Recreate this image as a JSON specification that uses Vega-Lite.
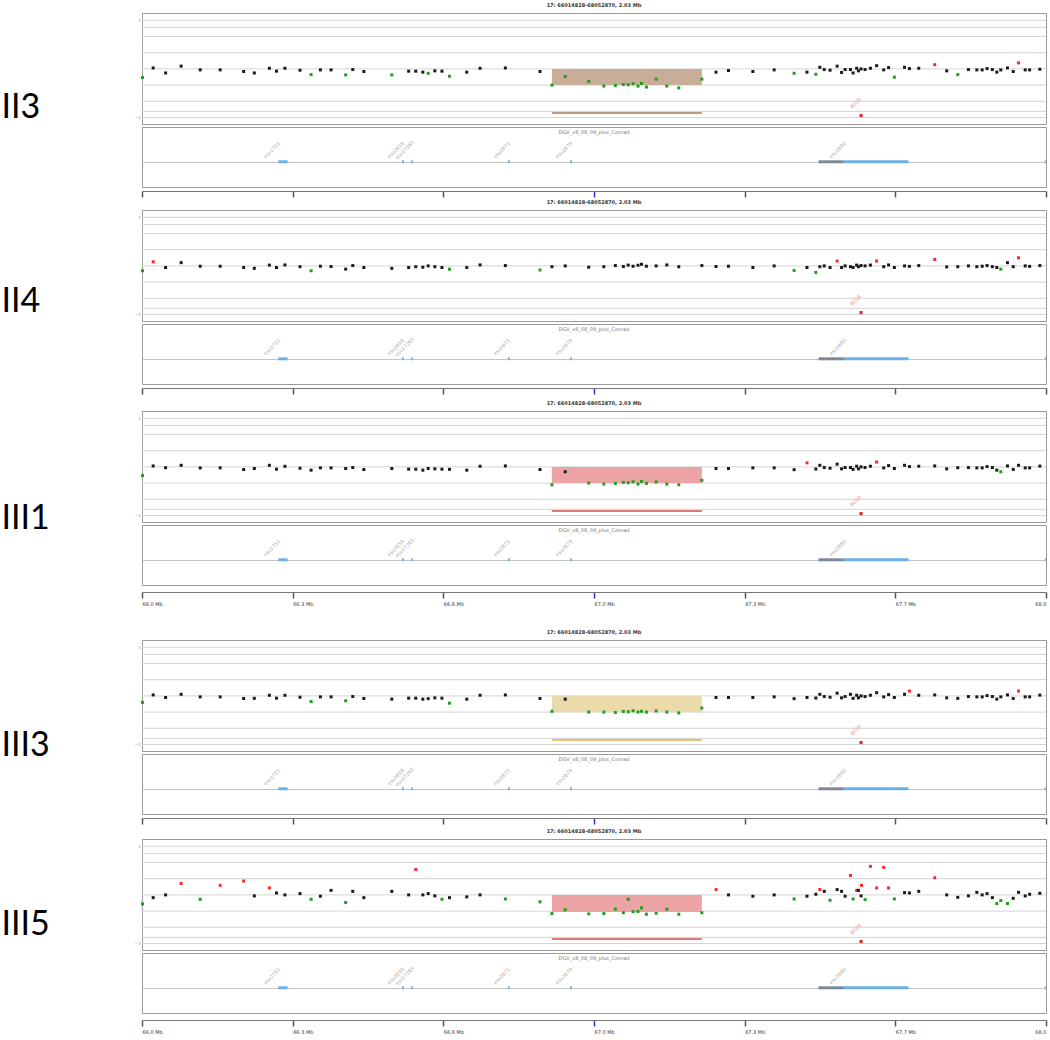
{
"$schema": "https://vega.github.io/schema/vega-lite/v6.json",
"background": "white",
"padding": {"left": 0, "top": 2, "right": 0, "bottom": 0},
"config": {"view": {"stroke": "#9a9a9a", "strokeWidth": 1}, "font": "DejaVu Sans"},
"datasets": {
"lv": [{"y":3},{"y":2.56},{"y":2},{"y":1},{"y":0},{"y":-1},{"y":-2},{"y":-2.62},{"y":-3}],
"reg": [
{"s":"II3","b":66.939,"e":67.277,"hi":0,"lo":-1,"call":-2.72},
{"s":"III1","b":66.939,"e":67.277,"hi":0,"lo":-1,"call":-2.72},
{"s":"III3","b":66.939,"e":67.277,"hi":0,"lo":-1,"call":-2.72},
{"s":"III5","b":66.939,"e":67.277,"hi":0,"lo":-1.05,"call":-2.72}
],
"mk": [{"p":67.636,"v":-2.88,"id":"B028"}],
"dgv": [
{"b":66.322,"e":66.343,"k":"blue","id":"esv2751"},
{"b":66.601,"e":66.605,"k":"blue","id":"esv2658"},
{"b":66.621,"e":66.625,"k":"blue","id":"esv27265"},
{"b":66.840,"e":66.844,"k":"blue","id":"esv2671"},
{"b":66.980,"e":66.984,"k":"blue","id":"esv2679"},
{"b":67.540,"e":67.597,"k":"dark","id":""},
{"b":67.597,"e":67.743,"k":"blue","id":"esv2680"},
{"b":68.050,"e":68.053,"k":"blue","id":""}
],
"pts": [
{"s":"II3","p":66.016,"v":-0.53,"c":"g"},{"s":"II3","p":66.040,"v":0.06,"c":"n"},{"s":"II3","p":66.068,"v":-0.25,"c":"n"},{"s":"II3","p":66.103,"v":0.17,"c":"n"},{"s":"II3","p":66.146,"v":-0.06,"c":"n"},{"s":"II3","p":66.191,"v":-0.06,"c":"n"},{"s":"II3","p":66.244,"v":-0.16,"c":"n"},{"s":"II3","p":66.268,"v":-0.25,"c":"n"},{"s":"II3","p":66.302,"v":0.04,"c":"n"},{"s":"II3","p":66.318,"v":-0.14,"c":"n"},
{"s":"II3","p":66.337,"v":0.04,"c":"n"},{"s":"II3","p":66.371,"v":-0.08,"c":"n"},{"s":"II3","p":66.396,"v":-0.35,"c":"g"},{"s":"II3","p":66.417,"v":-0.06,"c":"n"},{"s":"II3","p":66.441,"v":-0.06,"c":"n"},{"s":"II3","p":66.474,"v":-0.37,"c":"g"},{"s":"II3","p":66.490,"v":-0.04,"c":"n"},{"s":"II3","p":66.515,"v":-0.16,"c":"n"},{"s":"II3","p":66.578,"v":-0.37,"c":"g"},{"s":"II3","p":66.616,"v":-0.14,"c":"n"},
{"s":"II3","p":66.632,"v":-0.14,"c":"n"},{"s":"II3","p":66.648,"v":-0.2,"c":"n"},{"s":"II3","p":66.660,"v":-0.27,"c":"g"},{"s":"II3","p":66.675,"v":-0.12,"c":"n"},{"s":"II3","p":66.691,"v":-0.14,"c":"n"},{"s":"II3","p":66.708,"v":-0.45,"c":"g"},{"s":"II3","p":66.747,"v":-0.2,"c":"n"},{"s":"II3","p":66.777,"v":0.04,"c":"n"},{"s":"II3","p":66.834,"v":0.06,"c":"n"},{"s":"II3","p":66.912,"v":-0.16,"c":"n"},
{"s":"II3","p":66.939,"v":-1.0,"c":"g"},{"s":"II3","p":66.969,"v":-0.47,"c":"g"},{"s":"II3","p":67.022,"v":-0.78,"c":"g"},{"s":"II3","p":67.056,"v":-1.06,"c":"g"},{"s":"II3","p":67.082,"v":-1.02,"c":"g"},{"s":"II3","p":67.100,"v":-0.96,"c":"g"},{"s":"II3","p":67.111,"v":-0.98,"c":"g"},{"s":"II3","p":67.122,"v":-0.92,"c":"g"},{"s":"II3","p":67.133,"v":-1.06,"c":"g"},{"s":"II3","p":67.141,"v":-0.9,"c":"g"},
{"s":"II3","p":67.152,"v":-1.12,"c":"g"},{"s":"II3","p":67.174,"v":-0.63,"c":"g"},{"s":"II3","p":67.198,"v":-1.06,"c":"g"},{"s":"II3","p":67.225,"v":-1.17,"c":"g"},{"s":"II3","p":67.277,"v":-0.63,"c":"g"},{"s":"II3","p":67.309,"v":-0.2,"c":"n"},{"s":"II3","p":67.337,"v":-0.1,"c":"n"},{"s":"II3","p":67.392,"v":-0.16,"c":"n"},{"s":"II3","p":67.440,"v":-0.06,"c":"n"},{"s":"II3","p":67.485,"v":-0.27,"c":"g"},
{"s":"II3","p":67.514,"v":-0.2,"c":"n"},{"s":"II3","p":67.534,"v":-0.33,"c":"g"},{"s":"II3","p":67.543,"v":0.1,"c":"n"},{"s":"II3","p":67.553,"v":-0.04,"c":"n"},{"s":"II3","p":67.566,"v":-0.08,"c":"n"},{"s":"II3","p":67.582,"v":0.17,"c":"n"},{"s":"II3","p":67.592,"v":-0.22,"c":"n"},{"s":"II3","p":67.600,"v":-0.04,"c":"n"},{"s":"II3","p":67.612,"v":-0.04,"c":"n"},{"s":"II3","p":67.618,"v":-0.25,"c":"n"},
{"s":"II3","p":67.626,"v":0.04,"c":"n"},{"s":"II3","p":67.630,"v":-0.12,"c":"n"},{"s":"II3","p":67.636,"v":0.0,"c":"n"},{"s":"II3","p":67.645,"v":-0.04,"c":"n"},{"s":"II3","p":67.657,"v":0.04,"c":"n"},{"s":"II3","p":67.671,"v":0.2,"c":"n"},{"s":"II3","p":67.687,"v":-0.06,"c":"n"},{"s":"II3","p":67.698,"v":0.08,"c":"n"},{"s":"II3","p":67.711,"v":-0.51,"c":"g"},{"s":"II3","p":67.734,"v":0.1,"c":"n"},
{"s":"II3","p":67.745,"v":0.02,"c":"n"},{"s":"II3","p":67.766,"v":0.04,"c":"n"},{"s":"II3","p":67.802,"v":0.26,"c":"r"},{"s":"II3","p":67.829,"v":-0.12,"c":"n"},{"s":"II3","p":67.854,"v":-0.35,"c":"g"},{"s":"II3","p":67.878,"v":-0.04,"c":"n"},{"s":"II3","p":67.897,"v":-0.06,"c":"n"},{"s":"II3","p":67.909,"v":-0.06,"c":"n"},{"s":"II3","p":67.920,"v":0.02,"c":"n"},{"s":"II3","p":67.932,"v":-0.04,"c":"n"},
{"s":"II3","p":67.942,"v":-0.2,"c":"n"},{"s":"II3","p":67.951,"v":-0.06,"c":"n"},{"s":"II3","p":67.966,"v":0.06,"c":"n"},{"s":"II3","p":67.979,"v":-0.16,"c":"n"},{"s":"II3","p":67.991,"v":0.37,"c":"r"},{"s":"II3","p":68.006,"v":-0.06,"c":"n"},{"s":"II3","p":68.016,"v":-0.06,"c":"n"},{"s":"II3","p":68.039,"v":-0.02,"c":"n"},

{"s":"II4","p":66.016,"v":-0.3,"c":"g"},{"s":"II4","p":66.040,"v":0.25,"c":"r"},{"s":"II4","p":66.068,"v":-0.1,"c":"n"},{"s":"II4","p":66.103,"v":0.2,"c":"n"},{"s":"II4","p":66.146,"v":-0.02,"c":"n"},{"s":"II4","p":66.191,"v":-0.02,"c":"n"},{"s":"II4","p":66.244,"v":-0.1,"c":"n"},{"s":"II4","p":66.268,"v":-0.15,"c":"n"},{"s":"II4","p":66.302,"v":0.05,"c":"n"},{"s":"II4","p":66.318,"v":-0.1,"c":"n"},
{"s":"II4","p":66.337,"v":0.06,"c":"n"},{"s":"II4","p":66.371,"v":-0.05,"c":"n"},{"s":"II4","p":66.396,"v":-0.3,"c":"g"},{"s":"II4","p":66.417,"v":-0.02,"c":"n"},{"s":"II4","p":66.441,"v":-0.04,"c":"n"},{"s":"II4","p":66.474,"v":-0.2,"c":"n"},{"s":"II4","p":66.490,"v":0.02,"c":"n"},{"s":"II4","p":66.515,"v":-0.1,"c":"n"},{"s":"II4","p":66.578,"v":-0.15,"c":"n"},{"s":"II4","p":66.616,"v":-0.1,"c":"n"},
{"s":"II4","p":66.632,"v":-0.05,"c":"n"},{"s":"II4","p":66.648,"v":-0.08,"c":"n"},{"s":"II4","p":66.660,"v":0.0,"c":"n"},{"s":"II4","p":66.675,"v":-0.05,"c":"n"},{"s":"II4","p":66.691,"v":-0.1,"c":"n"},{"s":"II4","p":66.708,"v":-0.2,"c":"g"},{"s":"II4","p":66.747,"v":-0.1,"c":"n"},{"s":"II4","p":66.777,"v":0.06,"c":"n"},{"s":"II4","p":66.834,"v":0.02,"c":"n"},{"s":"II4","p":66.912,"v":-0.25,"c":"g"},
{"s":"II4","p":66.939,"v":-0.05,"c":"n"},{"s":"II4","p":66.969,"v":0.0,"c":"n"},{"s":"II4","p":67.022,"v":-0.08,"c":"n"},{"s":"II4","p":67.056,"v":-0.05,"c":"n"},{"s":"II4","p":67.082,"v":0.02,"c":"n"},{"s":"II4","p":67.100,"v":-0.04,"c":"n"},{"s":"II4","p":67.111,"v":0.05,"c":"n"},{"s":"II4","p":67.122,"v":-0.02,"c":"n"},{"s":"II4","p":67.133,"v":0.04,"c":"n"},{"s":"II4","p":67.141,"v":0.1,"c":"n"},
{"s":"II4","p":67.152,"v":-0.02,"c":"n"},{"s":"II4","p":67.174,"v":0.0,"c":"n"},{"s":"II4","p":67.198,"v":0.06,"c":"n"},{"s":"II4","p":67.225,"v":-0.05,"c":"n"},{"s":"II4","p":67.277,"v":0.02,"c":"n"},{"s":"II4","p":67.309,"v":-0.04,"c":"n"},{"s":"II4","p":67.337,"v":-0.02,"c":"n"},{"s":"II4","p":67.392,"v":-0.1,"c":"n"},{"s":"II4","p":67.440,"v":0.0,"c":"n"},{"s":"II4","p":67.485,"v":-0.28,"c":"g"},
{"s":"II4","p":67.514,"v":-0.1,"c":"n"},{"s":"II4","p":67.534,"v":-0.4,"c":"g"},{"s":"II4","p":67.543,"v":-0.05,"c":"n"},{"s":"II4","p":67.553,"v":0.0,"c":"n"},{"s":"II4","p":67.566,"v":-0.1,"c":"n"},{"s":"II4","p":67.582,"v":0.3,"c":"r"},{"s":"II4","p":67.592,"v":-0.1,"c":"n"},{"s":"II4","p":67.600,"v":0.0,"c":"n"},{"s":"II4","p":67.612,"v":-0.05,"c":"n"},{"s":"II4","p":67.618,"v":-0.1,"c":"n"},
{"s":"II4","p":67.626,"v":0.05,"c":"n"},{"s":"II4","p":67.630,"v":-0.05,"c":"n"},{"s":"II4","p":67.636,"v":0.02,"c":"n"},{"s":"II4","p":67.645,"v":0.0,"c":"n"},{"s":"II4","p":67.657,"v":0.05,"c":"n"},{"s":"II4","p":67.671,"v":0.3,"c":"r"},{"s":"II4","p":67.687,"v":-0.05,"c":"n"},{"s":"II4","p":67.698,"v":0.06,"c":"n"},{"s":"II4","p":67.711,"v":-0.1,"c":"n"},{"s":"II4","p":67.734,"v":0.0,"c":"n"},
{"s":"II4","p":67.745,"v":-0.03,"c":"n"},{"s":"II4","p":67.766,"v":0.02,"c":"n"},{"s":"II4","p":67.802,"v":0.4,"c":"r"},{"s":"II4","p":67.829,"v":-0.06,"c":"n"},{"s":"II4","p":67.854,"v":-0.05,"c":"n"},{"s":"II4","p":67.878,"v":0.0,"c":"n"},{"s":"II4","p":67.897,"v":-0.05,"c":"n"},{"s":"II4","p":67.909,"v":-0.02,"c":"n"},{"s":"II4","p":67.920,"v":0.02,"c":"n"},{"s":"II4","p":67.932,"v":-0.05,"c":"n"},
{"s":"II4","p":67.942,"v":-0.1,"c":"n"},{"s":"II4","p":67.951,"v":-0.2,"c":"g"},{"s":"II4","p":67.966,"v":0.2,"c":"n"},{"s":"II4","p":67.979,"v":-0.05,"c":"n"},{"s":"II4","p":67.991,"v":0.5,"c":"r"},{"s":"II4","p":68.006,"v":0.0,"c":"n"},{"s":"II4","p":68.016,"v":-0.03,"c":"n"},{"s":"II4","p":68.039,"v":0.02,"c":"n"},

{"s":"III1","p":66.016,"v":-0.53,"c":"g"},{"s":"III1","p":66.040,"v":0.06,"c":"n"},{"s":"III1","p":66.068,"v":-0.05,"c":"n"},{"s":"III1","p":66.103,"v":0.1,"c":"n"},{"s":"III1","p":66.146,"v":-0.06,"c":"n"},{"s":"III1","p":66.191,"v":-0.06,"c":"n"},{"s":"III1","p":66.244,"v":-0.16,"c":"n"},{"s":"III1","p":66.268,"v":-0.1,"c":"n"},{"s":"III1","p":66.302,"v":0.1,"c":"n"},{"s":"III1","p":66.318,"v":-0.14,"c":"n"},
{"s":"III1","p":66.337,"v":0.04,"c":"n"},{"s":"III1","p":66.371,"v":-0.08,"c":"n"},{"s":"III1","p":66.396,"v":-0.2,"c":"n"},{"s":"III1","p":66.417,"v":-0.06,"c":"n"},{"s":"III1","p":66.441,"v":-0.06,"c":"n"},{"s":"III1","p":66.474,"v":-0.1,"c":"n"},{"s":"III1","p":66.490,"v":-0.04,"c":"n"},{"s":"III1","p":66.515,"v":-0.16,"c":"n"},{"s":"III1","p":66.578,"v":-0.1,"c":"n"},{"s":"III1","p":66.616,"v":-0.14,"c":"n"},
{"s":"III1","p":66.632,"v":-0.14,"c":"n"},{"s":"III1","p":66.648,"v":-0.2,"c":"n"},{"s":"III1","p":66.660,"v":-0.1,"c":"n"},{"s":"III1","p":66.675,"v":-0.12,"c":"n"},{"s":"III1","p":66.691,"v":-0.14,"c":"n"},{"s":"III1","p":66.708,"v":-0.15,"c":"n"},{"s":"III1","p":66.747,"v":-0.2,"c":"n"},{"s":"III1","p":66.777,"v":0.04,"c":"n"},{"s":"III1","p":66.834,"v":0.06,"c":"n"},{"s":"III1","p":66.912,"v":-0.16,"c":"n"},
{"s":"III1","p":66.939,"v":-1.1,"c":"g"},{"s":"III1","p":66.969,"v":-0.3,"c":"n"},{"s":"III1","p":67.022,"v":-1.0,"c":"g"},{"s":"III1","p":67.056,"v":-1.06,"c":"g"},{"s":"III1","p":67.082,"v":-1.02,"c":"g"},{"s":"III1","p":67.100,"v":-0.96,"c":"g"},{"s":"III1","p":67.111,"v":-0.98,"c":"g"},{"s":"III1","p":67.122,"v":-0.92,"c":"g"},{"s":"III1","p":67.133,"v":-1.06,"c":"g"},{"s":"III1","p":67.141,"v":-0.9,"c":"g"},
{"s":"III1","p":67.152,"v":-1.02,"c":"g"},{"s":"III1","p":67.174,"v":-0.93,"c":"g"},{"s":"III1","p":67.198,"v":-1.06,"c":"g"},{"s":"III1","p":67.225,"v":-1.1,"c":"g"},{"s":"III1","p":67.277,"v":-0.83,"c":"g"},{"s":"III1","p":67.309,"v":-0.1,"c":"n"},{"s":"III1","p":67.337,"v":-0.1,"c":"n"},{"s":"III1","p":67.392,"v":-0.06,"c":"n"},{"s":"III1","p":67.440,"v":-0.06,"c":"n"},{"s":"III1","p":67.485,"v":-0.17,"c":"n"},
{"s":"III1","p":67.514,"v":0.25,"c":"r"},{"s":"III1","p":67.534,"v":-0.13,"c":"n"},{"s":"III1","p":67.543,"v":0.1,"c":"n"},{"s":"III1","p":67.553,"v":-0.04,"c":"n"},{"s":"III1","p":67.566,"v":-0.08,"c":"n"},{"s":"III1","p":67.582,"v":0.17,"c":"n"},{"s":"III1","p":67.592,"v":-0.12,"c":"n"},{"s":"III1","p":67.600,"v":-0.04,"c":"n"},{"s":"III1","p":67.612,"v":-0.04,"c":"n"},{"s":"III1","p":67.618,"v":-0.15,"c":"n"},
{"s":"III1","p":67.626,"v":0.04,"c":"n"},{"s":"III1","p":67.630,"v":-0.12,"c":"n"},{"s":"III1","p":67.636,"v":0.0,"c":"n"},{"s":"III1","p":67.645,"v":-0.04,"c":"n"},{"s":"III1","p":67.657,"v":0.04,"c":"n"},{"s":"III1","p":67.671,"v":0.3,"c":"r"},{"s":"III1","p":67.687,"v":-0.06,"c":"n"},{"s":"III1","p":67.698,"v":0.08,"c":"n"},{"s":"III1","p":67.711,"v":-0.1,"c":"n"},{"s":"III1","p":67.734,"v":0.1,"c":"n"},
{"s":"III1","p":67.745,"v":0.02,"c":"n"},{"s":"III1","p":67.766,"v":0.04,"c":"n"},{"s":"III1","p":67.802,"v":0.06,"c":"n"},{"s":"III1","p":67.829,"v":-0.12,"c":"n"},{"s":"III1","p":67.854,"v":-0.05,"c":"n"},{"s":"III1","p":67.878,"v":-0.04,"c":"n"},{"s":"III1","p":67.897,"v":-0.06,"c":"n"},{"s":"III1","p":67.909,"v":-0.06,"c":"n"},{"s":"III1","p":67.920,"v":0.02,"c":"n"},{"s":"III1","p":67.932,"v":-0.04,"c":"n"},
{"s":"III1","p":67.942,"v":-0.2,"c":"n"},{"s":"III1","p":67.951,"v":-0.3,"c":"g"},{"s":"III1","p":67.966,"v":0.06,"c":"n"},{"s":"III1","p":67.979,"v":-0.16,"c":"n"},{"s":"III1","p":67.991,"v":0.1,"c":"n"},{"s":"III1","p":68.006,"v":-0.06,"c":"n"},{"s":"III1","p":68.016,"v":-0.06,"c":"n"},{"s":"III1","p":68.039,"v":0.05,"c":"n"},

{"s":"III3","p":66.016,"v":-0.4,"c":"g"},{"s":"III3","p":66.040,"v":0.06,"c":"n"},{"s":"III3","p":66.068,"v":-0.1,"c":"n"},{"s":"III3","p":66.103,"v":0.1,"c":"n"},{"s":"III3","p":66.146,"v":-0.06,"c":"n"},{"s":"III3","p":66.191,"v":-0.06,"c":"n"},{"s":"III3","p":66.244,"v":-0.16,"c":"n"},{"s":"III3","p":66.268,"v":-0.15,"c":"n"},{"s":"III3","p":66.302,"v":0.04,"c":"n"},{"s":"III3","p":66.318,"v":-0.14,"c":"n"},
{"s":"III3","p":66.337,"v":0.04,"c":"n"},{"s":"III3","p":66.371,"v":-0.08,"c":"n"},{"s":"III3","p":66.396,"v":-0.35,"c":"g"},{"s":"III3","p":66.417,"v":-0.06,"c":"n"},{"s":"III3","p":66.441,"v":-0.06,"c":"n"},{"s":"III3","p":66.474,"v":-0.3,"c":"g"},{"s":"III3","p":66.490,"v":-0.04,"c":"n"},{"s":"III3","p":66.515,"v":-0.16,"c":"n"},{"s":"III3","p":66.578,"v":-0.2,"c":"n"},{"s":"III3","p":66.616,"v":-0.14,"c":"n"},
{"s":"III3","p":66.632,"v":-0.14,"c":"n"},{"s":"III3","p":66.648,"v":-0.2,"c":"n"},{"s":"III3","p":66.660,"v":-0.17,"c":"n"},{"s":"III3","p":66.675,"v":-0.12,"c":"n"},{"s":"III3","p":66.691,"v":-0.14,"c":"n"},{"s":"III3","p":66.708,"v":-0.45,"c":"g"},{"s":"III3","p":66.747,"v":-0.2,"c":"n"},{"s":"III3","p":66.777,"v":0.04,"c":"n"},{"s":"III3","p":66.834,"v":0.06,"c":"n"},{"s":"III3","p":66.912,"v":-0.16,"c":"n"},
{"s":"III3","p":66.939,"v":-0.95,"c":"g"},{"s":"III3","p":66.969,"v":-0.2,"c":"n"},{"s":"III3","p":67.022,"v":-1.0,"c":"g"},{"s":"III3","p":67.056,"v":-1.0,"c":"g"},{"s":"III3","p":67.082,"v":-1.02,"c":"g"},{"s":"III3","p":67.100,"v":-0.96,"c":"g"},{"s":"III3","p":67.111,"v":-0.98,"c":"g"},{"s":"III3","p":67.122,"v":-0.92,"c":"g"},{"s":"III3","p":67.133,"v":-1.0,"c":"g"},{"s":"III3","p":67.141,"v":-0.95,"c":"g"},
{"s":"III3","p":67.152,"v":-1.0,"c":"g"},{"s":"III3","p":67.174,"v":-0.93,"c":"g"},{"s":"III3","p":67.198,"v":-1.0,"c":"g"},{"s":"III3","p":67.225,"v":-1.05,"c":"g"},{"s":"III3","p":67.277,"v":-0.75,"c":"g"},{"s":"III3","p":67.309,"v":-0.1,"c":"n"},{"s":"III3","p":67.337,"v":-0.1,"c":"n"},{"s":"III3","p":67.392,"v":-0.1,"c":"n"},{"s":"III3","p":67.440,"v":-0.06,"c":"n"},{"s":"III3","p":67.485,"v":-0.17,"c":"n"},
{"s":"III3","p":67.514,"v":-0.1,"c":"n"},{"s":"III3","p":67.534,"v":-0.13,"c":"n"},{"s":"III3","p":67.543,"v":0.1,"c":"n"},{"s":"III3","p":67.553,"v":-0.04,"c":"n"},{"s":"III3","p":67.566,"v":-0.08,"c":"n"},{"s":"III3","p":67.582,"v":0.17,"c":"n"},{"s":"III3","p":67.592,"v":-0.12,"c":"n"},{"s":"III3","p":67.600,"v":-0.04,"c":"n"},{"s":"III3","p":67.612,"v":0.1,"c":"n"},{"s":"III3","p":67.618,"v":-0.15,"c":"n"},
{"s":"III3","p":67.626,"v":0.04,"c":"n"},{"s":"III3","p":67.630,"v":-0.12,"c":"n"},{"s":"III3","p":67.636,"v":0.0,"c":"n"},{"s":"III3","p":67.645,"v":-0.04,"c":"n"},{"s":"III3","p":67.657,"v":0.04,"c":"n"},{"s":"III3","p":67.671,"v":0.2,"c":"n"},{"s":"III3","p":67.687,"v":-0.06,"c":"n"},{"s":"III3","p":67.698,"v":0.08,"c":"n"},{"s":"III3","p":67.711,"v":-0.1,"c":"n"},{"s":"III3","p":67.734,"v":0.1,"c":"n"},
{"s":"III3","p":67.745,"v":0.3,"c":"r"},{"s":"III3","p":67.766,"v":0.04,"c":"n"},{"s":"III3","p":67.802,"v":0.06,"c":"n"},{"s":"III3","p":67.829,"v":-0.12,"c":"n"},{"s":"III3","p":67.854,"v":-0.15,"c":"n"},{"s":"III3","p":67.878,"v":-0.04,"c":"n"},{"s":"III3","p":67.897,"v":-0.06,"c":"n"},{"s":"III3","p":67.909,"v":-0.06,"c":"n"},{"s":"III3","p":67.920,"v":0.02,"c":"n"},{"s":"III3","p":67.932,"v":-0.04,"c":"n"},
{"s":"III3","p":67.942,"v":-0.2,"c":"n"},{"s":"III3","p":67.951,"v":-0.06,"c":"n"},{"s":"III3","p":67.966,"v":0.06,"c":"n"},{"s":"III3","p":67.979,"v":-0.16,"c":"n"},{"s":"III3","p":67.991,"v":0.3,"c":"r"},{"s":"III3","p":68.006,"v":-0.06,"c":"n"},{"s":"III3","p":68.016,"v":-0.06,"c":"n"},{"s":"III3","p":68.039,"v":0.05,"c":"n"},

{"s":"III5","p":66.016,"v":-0.55,"c":"g"},{"s":"III5","p":66.040,"v":-0.17,"c":"n"},{"s":"III5","p":66.068,"v":0.0,"c":"n"},{"s":"III5","p":66.103,"v":0.71,"c":"r"},{"s":"III5","p":66.146,"v":-0.27,"c":"g"},{"s":"III5","p":66.191,"v":0.59,"c":"r"},{"s":"III5","p":66.244,"v":0.86,"c":"r"},{"s":"III5","p":66.268,"v":-0.06,"c":"n"},{"s":"III5","p":66.302,"v":0.43,"c":"r"},{"s":"III5","p":66.318,"v":0.12,"c":"n"},
{"s":"III5","p":66.337,"v":0.0,"c":"n"},{"s":"III5","p":66.371,"v":0.08,"c":"n"},{"s":"III5","p":66.396,"v":-0.27,"c":"g"},{"s":"III5","p":66.417,"v":-0.08,"c":"n"},{"s":"III5","p":66.441,"v":0.28,"c":"n"},{"s":"III5","p":66.474,"v":-0.47,"c":"g"},{"s":"III5","p":66.490,"v":0.22,"c":"n"},{"s":"III5","p":66.515,"v":-0.17,"c":"n"},{"s":"III5","p":66.578,"v":0.22,"c":"n"},{"s":"III5","p":66.616,"v":0.0,"c":"n"},
{"s":"III5","p":66.632,"v":1.57,"c":"r"},{"s":"III5","p":66.648,"v":0.0,"c":"n"},{"s":"III5","p":66.660,"v":0.08,"c":"n"},{"s":"III5","p":66.675,"v":-0.06,"c":"n"},{"s":"III5","p":66.691,"v":-0.27,"c":"g"},{"s":"III5","p":66.708,"v":-0.17,"c":"n"},{"s":"III5","p":66.747,"v":-0.12,"c":"n"},{"s":"III5","p":66.777,"v":0.0,"c":"n"},{"s":"III5","p":66.834,"v":-0.25,"c":"g"},{"s":"III5","p":66.912,"v":-0.43,"c":"g"},
{"s":"III5","p":66.939,"v":-1.15,"c":"g"},{"s":"III5","p":66.969,"v":-0.92,"c":"g"},{"s":"III5","p":67.022,"v":-1.17,"c":"g"},{"s":"III5","p":67.056,"v":-1.15,"c":"g"},{"s":"III5","p":67.082,"v":-0.88,"c":"g"},{"s":"III5","p":67.100,"v":-1.1,"c":"g"},{"s":"III5","p":67.111,"v":-0.27,"c":"g"},{"s":"III5","p":67.122,"v":-1.04,"c":"g"},{"s":"III5","p":67.133,"v":-1.02,"c":"g"},{"s":"III5","p":67.141,"v":-0.8,"c":"g"},
{"s":"III5","p":67.152,"v":-1.19,"c":"g"},{"s":"III5","p":67.174,"v":-1.13,"c":"g"},{"s":"III5","p":67.198,"v":-0.88,"c":"g"},{"s":"III5","p":67.225,"v":-1.19,"c":"g"},{"s":"III5","p":67.277,"v":-1.1,"c":"g"},{"s":"III5","p":67.309,"v":0.33,"c":"r"},{"s":"III5","p":67.337,"v":0.0,"c":"n"},{"s":"III5","p":67.392,"v":-0.08,"c":"n"},{"s":"III5","p":67.440,"v":0.0,"c":"n"},{"s":"III5","p":67.485,"v":-0.25,"c":"g"},
{"s":"III5","p":67.514,"v":-0.08,"c":"n"},{"s":"III5","p":67.534,"v":0.04,"c":"n"},{"s":"III5","p":67.543,"v":0.33,"c":"r"},{"s":"III5","p":67.553,"v":0.22,"c":"n"},{"s":"III5","p":67.566,"v":-0.33,"c":"g"},{"s":"III5","p":67.582,"v":0.33,"c":"n"},{"s":"III5","p":67.592,"v":0.22,"c":"n"},{"s":"III5","p":67.600,"v":-0.08,"c":"n"},{"s":"III5","p":67.612,"v":1.2,"c":"r"},{"s":"III5","p":67.618,"v":-0.25,"c":"g"},
{"s":"III5","p":67.626,"v":0.28,"c":"r"},{"s":"III5","p":67.630,"v":0.28,"c":"n"},{"s":"III5","p":67.636,"v":-0.06,"c":"n"},{"s":"III5","p":67.637,"v":0.59,"c":"r"},{"s":"III5","p":67.645,"v":-0.29,"c":"g"},{"s":"III5","p":67.657,"v":1.76,"c":"r"},{"s":"III5","p":67.671,"v":0.43,"c":"r"},{"s":"III5","p":67.687,"v":1.7,"c":"r"},{"s":"III5","p":67.698,"v":0.43,"c":"r"},{"s":"III5","p":67.711,"v":-0.25,"c":"g"},{"s":"III5","p":67.734,"v":0.14,"c":"n"},
{"s":"III5","p":67.745,"v":0.12,"c":"n"},{"s":"III5","p":67.766,"v":0.22,"c":"n"},{"s":"III5","p":67.802,"v":1.06,"c":"r"},{"s":"III5","p":67.829,"v":0.0,"c":"n"},{"s":"III5","p":67.854,"v":-0.15,"c":"n"},{"s":"III5","p":67.878,"v":-0.06,"c":"n"},{"s":"III5","p":67.897,"v":0.16,"c":"n"},{"s":"III5","p":67.909,"v":0.0,"c":"n"},{"s":"III5","p":67.920,"v":0.08,"c":"n"},{"s":"III5","p":67.932,"v":-0.17,"c":"n"},
{"s":"III5","p":67.942,"v":-0.53,"c":"g"},{"s":"III5","p":67.951,"v":-0.35,"c":"g"},{"s":"III5","p":67.966,"v":-0.53,"c":"g"},{"s":"III5","p":67.979,"v":-0.21,"c":"n"},{"s":"III5","p":67.991,"v":0.16,"c":"n"},{"s":"III5","p":68.006,"v":-0.06,"c":"n"},{"s":"III5","p":68.016,"v":0.04,"c":"n"},{"s":"III5","p":68.039,"v":0.1,"c":"n"}
]
},
"spacing": 22,
"vconcat": [
{"spacing": 4, "vconcat": [
{"spacing": 0, "vconcat": [
 {"bounds": "flush", "spacing": 3, "vconcat": [
  {"width": 904, "height": 111,
   "title": {"text": "17: 66014828-68052870, 2.03 Mb", "fontSize": 5, "fontWeight": "bold", "color": "#333333", "offset": 5},
   "layer": [
    {"data": {"name": "lv"}, "mark": {"type": "rule", "color": "#d4d4d4", "strokeWidth": 1},
     "encoding": {"y": {"field": "y", "type": "quantitative", "scale": {"domain": [-3.4, 3.45], "nice": false, "zero": false},
       "axis": {"values": [-3, -2, -1, 0, 1, 2, 3], "grid": false, "labelFontSize": 4, "labelColor": "#999999", "labelPadding": 2, "ticks": false, "domainColor": "#a0a0a0", "title": "II3", "titleAngle": 0, "titleFont": "Lato", "titleFontSize": 34, "titleFontWeight": "normal", "titleColor": "#000000", "titleX": -141, "titleY": 94, "titleAlign": "left", "titleBaseline": "middle"}}}},
    {"data": {"name": "reg"}, "transform": [{"filter": "datum.s == 'II3'"}], "mark": {"type": "rect", "color": "#c8ae98", "opacity": 1},
     "encoding": {"x": {"field": "b", "type": "quantitative", "scale": {"domain": [66.0148, 68.0529], "nice": false, "zero": false}, "axis": null}, "x2": {"field": "e"},
      "y": {"field": "hi", "type": "quantitative", "scale": {"domain": [-3.4, 3.45], "nice": false, "zero": false}}, "y2": {"field": "lo"}}},
    {"data": {"name": "reg"}, "transform": [{"filter": "datum.s == 'II3'"}], "mark": {"type": "rule", "color": "#a27a55", "strokeWidth": 1.5},
     "encoding": {"x": {"field": "b", "type": "quantitative", "scale": {"domain": [66.0148, 68.0529], "nice": false, "zero": false}, "axis": null}, "x2": {"field": "e"}, "y": {"field": "call", "type": "quantitative", "scale": {"domain": [-3.4, 3.45], "nice": false, "zero": false}}}},
    {"data": {"name": "pts"}, "transform": [{"filter": "datum.s == 'II3'"}], "mark": {"type": "square", "size": 9, "opacity": 1},
     "encoding": {"x": {"field": "p", "type": "quantitative", "scale": {"domain": [66.0148, 68.0529], "nice": false, "zero": false}, "axis": null}, "y": {"field": "v", "type": "quantitative", "scale": {"domain": [-3.4, 3.45], "nice": false, "zero": false}},
      "color": {"field": "c", "type": "nominal", "scale": {"domain": ["n", "g", "r"], "range": ["#1a1a1a", "#1f9e1f", "#ff2626"]}, "legend": null}}},
    {"data": {"name": "mk"}, "mark": {"type": "square", "size": 10, "color": "#d63030", "opacity": 1},
     "encoding": {"x": {"field": "p", "type": "quantitative", "scale": {"domain": [66.0148, 68.0529], "nice": false, "zero": false}, "axis": null}, "y": {"field": "v", "type": "quantitative", "scale": {"domain": [-3.4, 3.45], "nice": false, "zero": false}}}},
    {"data": {"name": "mk"}, "mark": {"type": "text", "angle": -45, "fontSize": 5, "color": "#f29090", "dx": 5, "dy": -13},
     "encoding": {"x": {"field": "p", "type": "quantitative", "scale": {"domain": [66.0148, 68.0529], "nice": false, "zero": false}, "axis": null}, "y": {"field": "v", "type": "quantitative", "scale": {"domain": [-3.4, 3.45], "nice": false, "zero": false}}, "text": {"field": "id"}}}
   ]},
  {"width": 904, "height": 60,
   "title": {"text": "DGV_v8_08_09_plus_Conrad", "fontSize": 5, "fontWeight": "normal", "color": "#777777", "offset": -8},
   "layer": [
    {"data": {"name": "dgv"}, "transform": [{"filter": "datum.k == 'blue'"}], "mark": {"type": "rule", "strokeWidth": 3, "strokeCap": "butt", "color": "#6cb0e8"},
     "encoding": {"x": {"field": "b", "type": "quantitative", "scale": {"domain": [66.0148, 68.0529], "nice": false, "zero": false},
       "axis": {"values": [66.0148, 66.3545, 66.6942, 67.0338, 67.3735, 67.7132, 68.0529], "labels": false, "tickSize": 6, "tickWidth": 1.5, "tickColor": {"condition": {"test": "abs(datum.value - 67.0338) < 0.001", "value": "#3333cc"}, "value": "#555555"}, "domainColor": "#777777", "offset": 4, "grid": false, "title": null}},
      "x2": {"field": "e"},
      "y": {"datum": 0.42, "type": "quantitative", "scale": {"domain": [0, 1], "nice": false, "zero": false}, "axis": {"values": [0.42], "grid": true, "gridColor": "#c4c4c4", "labels": false, "ticks": false, "domain": false, "title": null}}}},
    {"data": {"name": "dgv"}, "transform": [{"filter": "datum.k == 'dark'"}], "mark": {"type": "rule", "strokeWidth": 3, "strokeCap": "butt", "color": "#7d8a96"},
     "encoding": {"x": {"field": "b", "type": "quantitative", "scale": {"domain": [66.0148, 68.0529], "nice": false, "zero": false}}, "x2": {"field": "e"}, "y": {"datum": 0.42, "type": "quantitative", "scale": {"domain": [0, 1], "nice": false, "zero": false}}}},
    {"data": {"name": "dgv"}, "mark": {"type": "text", "angle": -45, "fontSize": 5, "color": "#aaaaaa", "dx": 4, "dy": -13},
     "encoding": {"x": {"field": "b", "type": "quantitative", "scale": {"domain": [66.0148, 68.0529], "nice": false, "zero": false}}, "y": {"datum": 0.42, "type": "quantitative", "scale": {"domain": [0, 1], "nice": false, "zero": false}}, "text": {"field": "id"}}}
   ]}
 ]},
 {"bounds": "flush", "spacing": 3, "vconcat": [
  {"width": 904, "height": 111,
   "title": {"text": "17: 66014828-68052870, 2.03 Mb", "fontSize": 5, "fontWeight": "bold", "color": "#333333", "offset": 5},
   "layer": [
    {"data": {"name": "lv"}, "mark": {"type": "rule", "color": "#d4d4d4", "strokeWidth": 1},
     "encoding": {"y": {"field": "y", "type": "quantitative", "scale": {"domain": [-3.4, 3.45], "nice": false, "zero": false},
       "axis": {"values": [-3, -2, -1, 0, 1, 2, 3], "grid": false, "labelFontSize": 4, "labelColor": "#999999", "labelPadding": 2, "ticks": false, "domainColor": "#a0a0a0", "title": "II4", "titleAngle": 0, "titleFont": "Lato", "titleFontSize": 34, "titleFontWeight": "normal", "titleColor": "#000000", "titleX": -141, "titleY": 91, "titleAlign": "left", "titleBaseline": "middle"}}}},
    {"data": {"name": "pts"}, "transform": [{"filter": "datum.s == 'II4'"}], "mark": {"type": "square", "size": 9, "opacity": 1},
     "encoding": {"x": {"field": "p", "type": "quantitative", "scale": {"domain": [66.0148, 68.0529], "nice": false, "zero": false}, "axis": null}, "y": {"field": "v", "type": "quantitative", "scale": {"domain": [-3.4, 3.45], "nice": false, "zero": false}},
      "color": {"field": "c", "type": "nominal", "scale": {"domain": ["n", "g", "r"], "range": ["#1a1a1a", "#1f9e1f", "#ff2626"]}, "legend": null}}},
    {"data": {"name": "mk"}, "mark": {"type": "square", "size": 10, "color": "#d63030", "opacity": 1},
     "encoding": {"x": {"field": "p", "type": "quantitative", "scale": {"domain": [66.0148, 68.0529], "nice": false, "zero": false}, "axis": null}, "y": {"field": "v", "type": "quantitative", "scale": {"domain": [-3.4, 3.45], "nice": false, "zero": false}}}},
    {"data": {"name": "mk"}, "mark": {"type": "text", "angle": -45, "fontSize": 5, "color": "#f29090", "dx": 5, "dy": -13},
     "encoding": {"x": {"field": "p", "type": "quantitative", "scale": {"domain": [66.0148, 68.0529], "nice": false, "zero": false}, "axis": null}, "y": {"field": "v", "type": "quantitative", "scale": {"domain": [-3.4, 3.45], "nice": false, "zero": false}}, "text": {"field": "id"}}}
   ]},
  {"width": 904, "height": 60,
   "title": {"text": "DGV_v8_08_09_plus_Conrad", "fontSize": 5, "fontWeight": "normal", "color": "#777777", "offset": -8},
   "layer": [
    {"data": {"name": "dgv"}, "transform": [{"filter": "datum.k == 'blue'"}], "mark": {"type": "rule", "strokeWidth": 3, "strokeCap": "butt", "color": "#6cb0e8"},
     "encoding": {"x": {"field": "b", "type": "quantitative", "scale": {"domain": [66.0148, 68.0529], "nice": false, "zero": false},
       "axis": {"values": [66.0148, 66.3545, 66.6942, 67.0338, 67.3735, 67.7132, 68.0529], "labels": false, "tickSize": 6, "tickWidth": 1.5, "tickColor": {"condition": {"test": "abs(datum.value - 67.0338) < 0.001", "value": "#3333cc"}, "value": "#555555"}, "domainColor": "#777777", "offset": 4, "grid": false, "title": null}},
      "x2": {"field": "e"},
      "y": {"datum": 0.42, "type": "quantitative", "scale": {"domain": [0, 1], "nice": false, "zero": false}, "axis": {"values": [0.42], "grid": true, "gridColor": "#c4c4c4", "labels": false, "ticks": false, "domain": false, "title": null}}}},
    {"data": {"name": "dgv"}, "transform": [{"filter": "datum.k == 'dark'"}], "mark": {"type": "rule", "strokeWidth": 3, "strokeCap": "butt", "color": "#7d8a96"},
     "encoding": {"x": {"field": "b", "type": "quantitative", "scale": {"domain": [66.0148, 68.0529], "nice": false, "zero": false}}, "x2": {"field": "e"}, "y": {"datum": 0.42, "type": "quantitative", "scale": {"domain": [0, 1], "nice": false, "zero": false}}}},
    {"data": {"name": "dgv"}, "mark": {"type": "text", "angle": -45, "fontSize": 5, "color": "#aaaaaa", "dx": 4, "dy": -13},
     "encoding": {"x": {"field": "b", "type": "quantitative", "scale": {"domain": [66.0148, 68.0529], "nice": false, "zero": false}}, "y": {"datum": 0.42, "type": "quantitative", "scale": {"domain": [0, 1], "nice": false, "zero": false}}, "text": {"field": "id"}}}
   ]}
 ]}
]},
 {"bounds": "flush", "spacing": 3, "vconcat": [
  {"width": 904, "height": 111,
   "title": {"text": "17: 66014828-68052870, 2.03 Mb", "fontSize": 5, "fontWeight": "bold", "color": "#333333", "offset": 5},
   "layer": [
    {"data": {"name": "lv"}, "mark": {"type": "rule", "color": "#d4d4d4", "strokeWidth": 1},
     "encoding": {"y": {"field": "y", "type": "quantitative", "scale": {"domain": [-3.4, 3.45], "nice": false, "zero": false},
       "axis": {"values": [-3, -2, -1, 0, 1, 2, 3], "grid": false, "labelFontSize": 4, "labelColor": "#999999", "labelPadding": 2, "ticks": false, "domainColor": "#a0a0a0", "title": "III1", "titleAngle": 0, "titleFont": "Lato", "titleFontSize": 34, "titleFontWeight": "normal", "titleColor": "#000000", "titleX": -141, "titleY": 107, "titleAlign": "left", "titleBaseline": "middle"}}}},
    {"data": {"name": "reg"}, "transform": [{"filter": "datum.s == 'III1'"}], "mark": {"type": "rect", "color": "#eba3a3", "opacity": 1},
     "encoding": {"x": {"field": "b", "type": "quantitative", "scale": {"domain": [66.0148, 68.0529], "nice": false, "zero": false}, "axis": null}, "x2": {"field": "e"},
      "y": {"field": "hi", "type": "quantitative", "scale": {"domain": [-3.4, 3.45], "nice": false, "zero": false}}, "y2": {"field": "lo"}}},
    {"data": {"name": "reg"}, "transform": [{"filter": "datum.s == 'III1'"}], "mark": {"type": "rule", "color": "#d94a4a", "strokeWidth": 1.5},
     "encoding": {"x": {"field": "b", "type": "quantitative", "scale": {"domain": [66.0148, 68.0529], "nice": false, "zero": false}, "axis": null}, "x2": {"field": "e"}, "y": {"field": "call", "type": "quantitative", "scale": {"domain": [-3.4, 3.45], "nice": false, "zero": false}}}},
    {"data": {"name": "pts"}, "transform": [{"filter": "datum.s == 'III1'"}], "mark": {"type": "square", "size": 9, "opacity": 1},
     "encoding": {"x": {"field": "p", "type": "quantitative", "scale": {"domain": [66.0148, 68.0529], "nice": false, "zero": false}, "axis": null}, "y": {"field": "v", "type": "quantitative", "scale": {"domain": [-3.4, 3.45], "nice": false, "zero": false}},
      "color": {"field": "c", "type": "nominal", "scale": {"domain": ["n", "g", "r"], "range": ["#1a1a1a", "#1f9e1f", "#ff2626"]}, "legend": null}}},
    {"data": {"name": "mk"}, "mark": {"type": "square", "size": 10, "color": "#d63030", "opacity": 1},
     "encoding": {"x": {"field": "p", "type": "quantitative", "scale": {"domain": [66.0148, 68.0529], "nice": false, "zero": false}, "axis": null}, "y": {"field": "v", "type": "quantitative", "scale": {"domain": [-3.4, 3.45], "nice": false, "zero": false}}}},
    {"data": {"name": "mk"}, "mark": {"type": "text", "angle": -45, "fontSize": 5, "color": "#f29090", "dx": 5, "dy": -13},
     "encoding": {"x": {"field": "p", "type": "quantitative", "scale": {"domain": [66.0148, 68.0529], "nice": false, "zero": false}, "axis": null}, "y": {"field": "v", "type": "quantitative", "scale": {"domain": [-3.4, 3.45], "nice": false, "zero": false}}, "text": {"field": "id"}}}
   ]},
  {"width": 904, "height": 60,
   "title": {"text": "DGV_v8_08_09_plus_Conrad", "fontSize": 5, "fontWeight": "normal", "color": "#777777", "offset": -8},
   "layer": [
    {"data": {"name": "dgv"}, "transform": [{"filter": "datum.k == 'blue'"}], "mark": {"type": "rule", "strokeWidth": 3, "strokeCap": "butt", "color": "#6cb0e8"},
     "encoding": {"x": {"field": "b", "type": "quantitative", "scale": {"domain": [66.0148, 68.0529], "nice": false, "zero": false},
       "axis": {"values": [66.0148, 66.3545, 66.6942, 67.0338, 67.3735, 67.7132, 68.0529], "labels": true, "labelExpr": "datum.value > 68.05 ? '68.0' : format(floor(datum.value*10)/10, '.1f') + ' Mb'", "labelFontSize": 5, "labelAlign": {"condition": {"test": "datum.value > 68.05", "value": "right"}, "value": "left"}, "labelFlush": false, "labelPadding": 3, "labelColor": "#333333", "tickSize": 6, "tickWidth": 1.5, "tickColor": {"condition": {"test": "abs(datum.value - 67.0338) < 0.001", "value": "#3333cc"}, "value": "#555555"}, "domainColor": "#777777", "offset": 7, "grid": false, "title": null}},
      "x2": {"field": "e"},
      "y": {"datum": 0.42, "type": "quantitative", "scale": {"domain": [0, 1], "nice": false, "zero": false}, "axis": {"values": [0.42], "grid": true, "gridColor": "#c4c4c4", "labels": false, "ticks": false, "domain": false, "title": null}}}},
    {"data": {"name": "dgv"}, "transform": [{"filter": "datum.k == 'dark'"}], "mark": {"type": "rule", "strokeWidth": 3, "strokeCap": "butt", "color": "#7d8a96"},
     "encoding": {"x": {"field": "b", "type": "quantitative", "scale": {"domain": [66.0148, 68.0529], "nice": false, "zero": false}}, "x2": {"field": "e"}, "y": {"datum": 0.42, "type": "quantitative", "scale": {"domain": [0, 1], "nice": false, "zero": false}}}},
    {"data": {"name": "dgv"}, "mark": {"type": "text", "angle": -45, "fontSize": 5, "color": "#aaaaaa", "dx": 4, "dy": -13},
     "encoding": {"x": {"field": "b", "type": "quantitative", "scale": {"domain": [66.0148, 68.0529], "nice": false, "zero": false}}, "y": {"datum": 0.42, "type": "quantitative", "scale": {"domain": [0, 1], "nice": false, "zero": false}}, "text": {"field": "id"}}}
   ]}
 ]}
]},
{"spacing": 2, "vconcat": [
 {"bounds": "flush", "spacing": 3, "vconcat": [
  {"width": 904, "height": 111,
   "title": {"text": "17: 66014828-68052870, 2.03 Mb", "fontSize": 5, "fontWeight": "bold", "color": "#333333", "offset": 5},
   "layer": [
    {"data": {"name": "lv"}, "mark": {"type": "rule", "color": "#d4d4d4", "strokeWidth": 1},
     "encoding": {"y": {"field": "y", "type": "quantitative", "scale": {"domain": [-3.4, 3.45], "nice": false, "zero": false},
       "axis": {"values": [-3, -2, -1, 0, 1, 2, 3], "grid": false, "labelFontSize": 4, "labelColor": "#999999", "labelPadding": 2, "ticks": false, "domainColor": "#a0a0a0", "title": "III3", "titleAngle": 0, "titleFont": "Lato", "titleFontSize": 34, "titleFontWeight": "normal", "titleColor": "#000000", "titleX": -141, "titleY": 105, "titleAlign": "left", "titleBaseline": "middle"}}}},
    {"data": {"name": "reg"}, "transform": [{"filter": "datum.s == 'III3'"}], "mark": {"type": "rect", "color": "#ead9a9", "opacity": 1},
     "encoding": {"x": {"field": "b", "type": "quantitative", "scale": {"domain": [66.0148, 68.0529], "nice": false, "zero": false}, "axis": null}, "x2": {"field": "e"},
      "y": {"field": "hi", "type": "quantitative", "scale": {"domain": [-3.4, 3.45], "nice": false, "zero": false}}, "y2": {"field": "lo"}}},
    {"data": {"name": "reg"}, "transform": [{"filter": "datum.s == 'III3'"}], "mark": {"type": "rule", "color": "#e0ad45", "strokeWidth": 1.5},
     "encoding": {"x": {"field": "b", "type": "quantitative", "scale": {"domain": [66.0148, 68.0529], "nice": false, "zero": false}, "axis": null}, "x2": {"field": "e"}, "y": {"field": "call", "type": "quantitative", "scale": {"domain": [-3.4, 3.45], "nice": false, "zero": false}}}},
    {"data": {"name": "pts"}, "transform": [{"filter": "datum.s == 'III3'"}], "mark": {"type": "square", "size": 9, "opacity": 1},
     "encoding": {"x": {"field": "p", "type": "quantitative", "scale": {"domain": [66.0148, 68.0529], "nice": false, "zero": false}, "axis": null}, "y": {"field": "v", "type": "quantitative", "scale": {"domain": [-3.4, 3.45], "nice": false, "zero": false}},
      "color": {"field": "c", "type": "nominal", "scale": {"domain": ["n", "g", "r"], "range": ["#1a1a1a", "#1f9e1f", "#ff2626"]}, "legend": null}}},
    {"data": {"name": "mk"}, "mark": {"type": "square", "size": 10, "color": "#d63030", "opacity": 1},
     "encoding": {"x": {"field": "p", "type": "quantitative", "scale": {"domain": [66.0148, 68.0529], "nice": false, "zero": false}, "axis": null}, "y": {"field": "v", "type": "quantitative", "scale": {"domain": [-3.4, 3.45], "nice": false, "zero": false}}}},
    {"data": {"name": "mk"}, "mark": {"type": "text", "angle": -45, "fontSize": 5, "color": "#f29090", "dx": 5, "dy": -13},
     "encoding": {"x": {"field": "p", "type": "quantitative", "scale": {"domain": [66.0148, 68.0529], "nice": false, "zero": false}, "axis": null}, "y": {"field": "v", "type": "quantitative", "scale": {"domain": [-3.4, 3.45], "nice": false, "zero": false}}, "text": {"field": "id"}}}
   ]},
  {"width": 904, "height": 60,
   "title": {"text": "DGV_v8_08_09_plus_Conrad", "fontSize": 5, "fontWeight": "normal", "color": "#777777", "offset": -8},
   "layer": [
    {"data": {"name": "dgv"}, "transform": [{"filter": "datum.k == 'blue'"}], "mark": {"type": "rule", "strokeWidth": 3, "strokeCap": "butt", "color": "#6cb0e8"},
     "encoding": {"x": {"field": "b", "type": "quantitative", "scale": {"domain": [66.0148, 68.0529], "nice": false, "zero": false},
       "axis": {"values": [66.0148, 66.3545, 66.6942, 67.0338, 67.3735, 67.7132, 68.0529], "labels": false, "tickSize": 6, "tickWidth": 1.5, "tickColor": {"condition": {"test": "abs(datum.value - 67.0338) < 0.001", "value": "#3333cc"}, "value": "#555555"}, "domainColor": "#777777", "offset": 4, "grid": false, "title": null}},
      "x2": {"field": "e"},
      "y": {"datum": 0.42, "type": "quantitative", "scale": {"domain": [0, 1], "nice": false, "zero": false}, "axis": {"values": [0.42], "grid": true, "gridColor": "#c4c4c4", "labels": false, "ticks": false, "domain": false, "title": null}}}},
    {"data": {"name": "dgv"}, "transform": [{"filter": "datum.k == 'dark'"}], "mark": {"type": "rule", "strokeWidth": 3, "strokeCap": "butt", "color": "#7d8a96"},
     "encoding": {"x": {"field": "b", "type": "quantitative", "scale": {"domain": [66.0148, 68.0529], "nice": false, "zero": false}}, "x2": {"field": "e"}, "y": {"datum": 0.42, "type": "quantitative", "scale": {"domain": [0, 1], "nice": false, "zero": false}}}},
    {"data": {"name": "dgv"}, "mark": {"type": "text", "angle": -45, "fontSize": 5, "color": "#aaaaaa", "dx": 4, "dy": -13},
     "encoding": {"x": {"field": "b", "type": "quantitative", "scale": {"domain": [66.0148, 68.0529], "nice": false, "zero": false}}, "y": {"datum": 0.42, "type": "quantitative", "scale": {"domain": [0, 1], "nice": false, "zero": false}}, "text": {"field": "id"}}}
   ]}
 ]},
 {"bounds": "flush", "spacing": 3, "vconcat": [
  {"width": 904, "height": 111,
   "title": {"text": "17: 66014828-68052870, 2.03 Mb", "fontSize": 5, "fontWeight": "bold", "color": "#333333", "offset": 5},
   "layer": [
    {"data": {"name": "lv"}, "mark": {"type": "rule", "color": "#d4d4d4", "strokeWidth": 1},
     "encoding": {"y": {"field": "y", "type": "quantitative", "scale": {"domain": [-3.4, 3.45], "nice": false, "zero": false},
       "axis": {"values": [-3, -2, -1, 0, 1, 2, 3], "grid": false, "labelFontSize": 4, "labelColor": "#999999", "labelPadding": 2, "ticks": false, "domainColor": "#a0a0a0", "title": "III5", "titleAngle": 0, "titleFont": "Lato", "titleFontSize": 34, "titleFontWeight": "normal", "titleColor": "#000000", "titleX": -141, "titleY": 85, "titleAlign": "left", "titleBaseline": "middle"}}}},
    {"data": {"name": "reg"}, "transform": [{"filter": "datum.s == 'III5'"}], "mark": {"type": "rect", "color": "#eba3a3", "opacity": 1},
     "encoding": {"x": {"field": "b", "type": "quantitative", "scale": {"domain": [66.0148, 68.0529], "nice": false, "zero": false}, "axis": null}, "x2": {"field": "e"},
      "y": {"field": "hi", "type": "quantitative", "scale": {"domain": [-3.4, 3.45], "nice": false, "zero": false}}, "y2": {"field": "lo"}}},
    {"data": {"name": "reg"}, "transform": [{"filter": "datum.s == 'III5'"}], "mark": {"type": "rule", "color": "#d94a4a", "strokeWidth": 1.5},
     "encoding": {"x": {"field": "b", "type": "quantitative", "scale": {"domain": [66.0148, 68.0529], "nice": false, "zero": false}, "axis": null}, "x2": {"field": "e"}, "y": {"field": "call", "type": "quantitative", "scale": {"domain": [-3.4, 3.45], "nice": false, "zero": false}}}},
    {"data": {"name": "pts"}, "transform": [{"filter": "datum.s == 'III5'"}], "mark": {"type": "square", "size": 9, "opacity": 1},
     "encoding": {"x": {"field": "p", "type": "quantitative", "scale": {"domain": [66.0148, 68.0529], "nice": false, "zero": false}, "axis": null}, "y": {"field": "v", "type": "quantitative", "scale": {"domain": [-3.4, 3.45], "nice": false, "zero": false}},
      "color": {"field": "c", "type": "nominal", "scale": {"domain": ["n", "g", "r"], "range": ["#1a1a1a", "#1f9e1f", "#ff2626"]}, "legend": null}}},
    {"data": {"name": "mk"}, "mark": {"type": "square", "size": 10, "color": "#d63030", "opacity": 1},
     "encoding": {"x": {"field": "p", "type": "quantitative", "scale": {"domain": [66.0148, 68.0529], "nice": false, "zero": false}, "axis": null}, "y": {"field": "v", "type": "quantitative", "scale": {"domain": [-3.4, 3.45], "nice": false, "zero": false}}}},
    {"data": {"name": "mk"}, "mark": {"type": "text", "angle": -45, "fontSize": 5, "color": "#f29090", "dx": 5, "dy": -13},
     "encoding": {"x": {"field": "p", "type": "quantitative", "scale": {"domain": [66.0148, 68.0529], "nice": false, "zero": false}, "axis": null}, "y": {"field": "v", "type": "quantitative", "scale": {"domain": [-3.4, 3.45], "nice": false, "zero": false}}, "text": {"field": "id"}}}
   ]},
  {"width": 904, "height": 60,
   "title": {"text": "DGV_v8_08_09_plus_Conrad", "fontSize": 5, "fontWeight": "normal", "color": "#777777", "offset": -8},
   "layer": [
    {"data": {"name": "dgv"}, "transform": [{"filter": "datum.k == 'blue'"}], "mark": {"type": "rule", "strokeWidth": 3, "strokeCap": "butt", "color": "#6cb0e8"},
     "encoding": {"x": {"field": "b", "type": "quantitative", "scale": {"domain": [66.0148, 68.0529], "nice": false, "zero": false},
       "axis": {"values": [66.0148, 66.3545, 66.6942, 67.0338, 67.3735, 67.7132, 68.0529], "labels": true, "labelExpr": "datum.value > 68.05 ? '68.0' : format(floor(datum.value*10)/10, '.1f') + ' Mb'", "labelFontSize": 5, "labelAlign": {"condition": {"test": "datum.value > 68.05", "value": "right"}, "value": "left"}, "labelFlush": false, "labelPadding": 3, "labelColor": "#333333", "tickSize": 6, "tickWidth": 1.5, "tickColor": {"condition": {"test": "abs(datum.value - 67.0338) < 0.001", "value": "#3333cc"}, "value": "#555555"}, "domainColor": "#777777", "offset": 7, "grid": false, "title": null}},
      "x2": {"field": "e"},
      "y": {"datum": 0.42, "type": "quantitative", "scale": {"domain": [0, 1], "nice": false, "zero": false}, "axis": {"values": [0.42], "grid": true, "gridColor": "#c4c4c4", "labels": false, "ticks": false, "domain": false, "title": null}}}},
    {"data": {"name": "dgv"}, "transform": [{"filter": "datum.k == 'dark'"}], "mark": {"type": "rule", "strokeWidth": 3, "strokeCap": "butt", "color": "#7d8a96"},
     "encoding": {"x": {"field": "b", "type": "quantitative", "scale": {"domain": [66.0148, 68.0529], "nice": false, "zero": false}}, "x2": {"field": "e"}, "y": {"datum": 0.42, "type": "quantitative", "scale": {"domain": [0, 1], "nice": false, "zero": false}}}},
    {"data": {"name": "dgv"}, "mark": {"type": "text", "angle": -45, "fontSize": 5, "color": "#aaaaaa", "dx": 4, "dy": -13},
     "encoding": {"x": {"field": "b", "type": "quantitative", "scale": {"domain": [66.0148, 68.0529], "nice": false, "zero": false}}, "y": {"datum": 0.42, "type": "quantitative", "scale": {"domain": [0, 1], "nice": false, "zero": false}}, "text": {"field": "id"}}}
   ]}
 ]}
]}
]
}
